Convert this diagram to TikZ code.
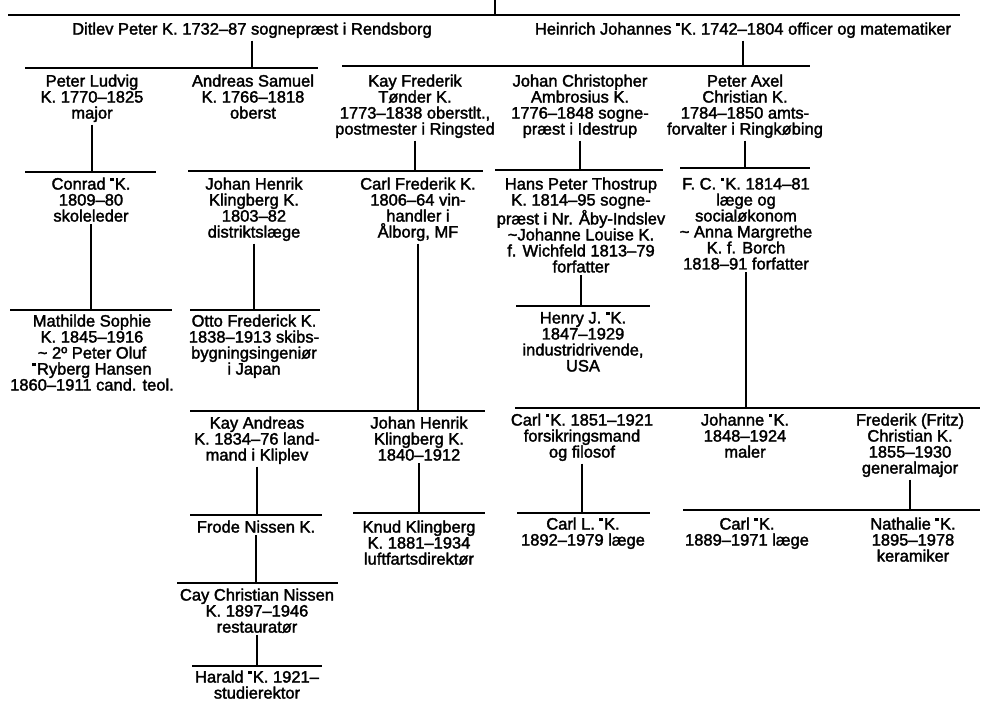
\documentclass[tikz,border=0pt]{standalone}
\usepackage{fontspec}
\setmainfont{Liberation Sans}[BoldFont={Liberation Sans},BoldFeatures={FakeBold=2}]
\usepackage{tikz}
\newcommand{\bio}{\raisebox{0.5em}{\rule{0.22em}{0.22em}}\kern0.06em}

\begin{document}
\begin{tikzpicture}[x=1pt, y=-1pt, line width=1.2pt,
	person/.style = {align=center, anchor=north, inner xsep=0pt, inner ysep=2pt,
		font=\fontsize{16.5}{16}\selectfont\bfseries}]
	\useasboundingbox (0,0) rectangle (983,702);
	\node[person] (ditlev) at (252,20) {Ditlev Peter K. 1732–87 sognepræst i Rendsborg};
	\node[person] (heinrich) at (743,20) {Heinrich Johannes \bio K. 1742–1804 officer og matematiker};
	\node[person] (peterludvig) at (92,72) {Peter Ludvig\\K. 1770–1825\\major};
	\node[person] (andreas) at (253,72) {Andreas Samuel\\K. 1766–1818\\oberst};
	\node[person] (kayfrederik) at (415,72) {Kay Frederik\\Tønder K.\\1773–1838 oberstlt.,\\postmester i Ringsted};
	\node[person] (johanchr) at (580,72) {Johan Christopher\\Ambrosius K.\\1776–1848 sogne-\\præst i Idestrup};
	\node[person] (peteraxel) at (745,72) {Peter Axel\\Christian K.\\1784–1850 amts-\\forvalter i Ringkøbing};
	\node[person] (conrad) at (91,175) {Conrad \bio K.\\1809–80\\skoleleder};
	\node[person] (jh1803) at (254,175) {Johan Henrik\\Klingberg K.\\1803–82\\distriktslæge};
	\node[person] (carlfrederik) at (418,175) {Carl Frederik K.\\1806–64 vin-\\handler i\\Ålborg, MF};
	\node[person] (hanspeter) at (581,175) {Hans Peter Thostrup\\K. 1814–95 sogne-\\præst i Nr. Åby-Indslev\\\textasciitilde{}Johanne Louise K.\\f. Wichfeld 1813–79\\forfatter};
	\node[person] (fc) at (746,175) {F. C. \bio K. 1814–81\\læge og\\socialøkonom\\\textasciitilde{} Anna Margrethe\\K. f. Borch\\1818–91 forfatter};
	\node[person] (mathilde) at (92,312) {Mathilde Sophie\\K. 1845–1916\\\textasciitilde{} 2º Peter Oluf\\\bio Ryberg Hansen\\1860–1911 cand. teol.};
	\node[person] (otto) at (254,312) {Otto Frederick K.\\1838–1913 skibs-\\bygningsingeniør\\i Japan};
	\node[person] (henry) at (583,309) {Henry J. \bio K.\\1847–1929\\industridrivende,\\USA};
	\node[person] (kayandreas) at (257,414) {Kay Andreas\\K. 1834–76 land-\\mand i Kliplev};
	\node[person] (jh1840) at (419,414) {Johan Henrik\\Klingberg K.\\1840–1912};
	\node[person] (carl1851) at (582,411) {Carl \bio K. 1851–1921\\forsikringsmand\\og filosof};
	\node[person] (johanne) at (745,411) {Johanne \bio K.\\1848–1924\\maler};
	\node[person] (fritz) at (910,411) {Frederik (Fritz)\\Christian K.\\1855–1930\\generalmajor};
	\node[person] (frode) at (256,518) {Frode Nissen K.};
	\node[person] (knud) at (419,518) {Knud Klingberg\\K. 1881–1934\\luftfartsdirektør};
	\node[person] (carlL) at (583,515) {Carl L. \bio K.\\1892–1979 læge};
	\node[person] (carl1889) at (747,515) {Carl \bio K.\\1889–1971 læge};
	\node[person] (nathalie) at (913,515) {Nathalie \bio K.\\1895–1978\\keramiker};
	\node[person] (cay) at (257,586) {Cay Christian Nissen\\K. 1897–1946\\restauratør};
	\node[person] (harald) at (257,668) {Harald \bio K. 1921–\\studierektor};
	\coordinate (root) at (495,0);
	\foreach \n/\l/\r/\y in {root/8/960/15, ditlev/25/318/68, heinrich/342/810/66,
		peterludvig/25/156/172, kayfrederik/188/483/171, johanchr/495/663/170,
		peteraxel/680/810/168, conrad/10/172/310, jh1803/190/320/310,
		hanspeter/516/650/306, carlfrederik/190/485/411, fc/515/980/408,
		kayandreas/190/322/515, jh1840/353/485/513, carl1851/517/650/513,
		fritz/683/980/510, frode/177/338/583, cay/192/322/666} {
		\coordinate (\n-l) at (\l,\y);
		\coordinate (\n-r) at (\r,\y);
		\draw (\n-l) -- (\n-r);
	}
	\foreach \n in {root, ditlev, heinrich, peterludvig, kayfrederik, johanchr,
		peteraxel, conrad, jh1803, hanspeter, carlfrederik, fc, kayandreas,
		jh1840, carl1851, fritz, frode, cay}
		\draw (\n) -- (\n |- \n-l);
\end{tikzpicture}
\end{document}
